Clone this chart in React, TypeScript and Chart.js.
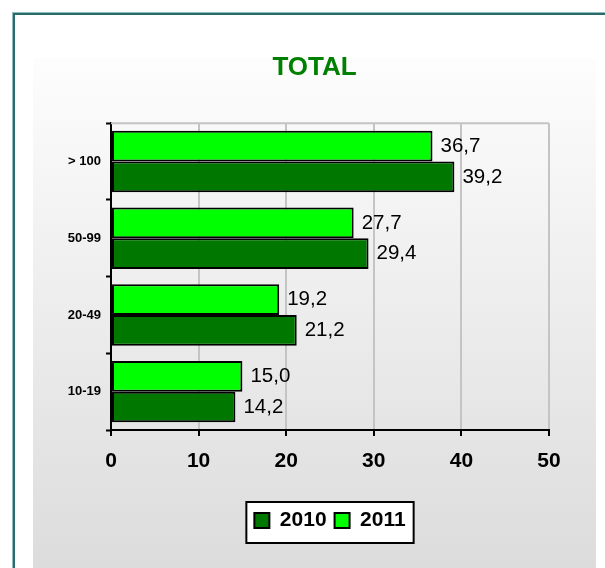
import React, { useEffect, useRef } from 'react';
import { Chart, registerables } from 'chart.js';

Chart.register(...registerables);

// ---- data ----
const titleText = 'TOTAL';
const categories = ['> 100', '50-99', '20-49', '10-19'];
const series2011 = [36.7, 27.7, 19.2, 15.0];
const series2010 = [39.2, 29.4, 21.2, 14.2];
const seriesNames = ['2011', '2010'];
const xTickValues = [0, 10, 20, 30, 40, 50];

const FONT = '"Liberation Sans", Arial, Helvetica, sans-serif';
const PANEL = { left: 33, top: 58, right: 596 };

const backgroundPlugin = {
  id: 'bgPanel',
  beforeDraw(chart: any) {
    const { ctx, width, height } = chart;
    ctx.save();
    ctx.fillStyle = '#ffffff';
    ctx.fillRect(0, 0, width, height);
    // teal frame (top + left visible)
    ctx.fillStyle = '#8fbcbc';
    ctx.fillRect(12, 12, width - 12, 1);
    ctx.fillRect(12, 12, 1, height - 12);
    ctx.fillStyle = '#2a6a6a';
    ctx.fillRect(13, 13, width - 13, 2);
    ctx.fillRect(13, 13, 2, height - 13);
    // gradient panel
    const g = ctx.createLinearGradient(0, PANEL.top, 0, height);
    g.addColorStop(0, '#fdfdfd');
    g.addColorStop(1, '#dcdcdc');
    ctx.fillStyle = g;
    ctx.fillRect(PANEL.left, PANEL.top, PANEL.right - PANEL.left, height - PANEL.top);
    // legend frame
    const lg = chart.legend;
    if (lg && lg.legendHitBoxes && lg.legendHitBoxes.length) {
      const hb = lg.legendHitBoxes;
      const l = Math.min(...hb.map((h: any) => h.left)) - 8;
      const r = Math.max(...hb.map((h: any) => h.left + h.width)) + 8;
      const t = lg.top;
      const b = Math.max(...hb.map((h: any) => h.top + h.height)) + 12;
      ctx.fillStyle = '#ffffff';
      ctx.fillRect(l, t, r - l, b - t);
      ctx.strokeStyle = '#000000';
      ctx.lineWidth = 2;
      ctx.strokeRect(l, t, r - l, b - t);
    }
    ctx.restore();
  },
  afterLayout(chart: any) {
    const t = chart.titleBlock;
    if (t) {
      t.left = PANEL.left;
      t.right = PANEL.right;
    }
  },
  beforeDatasetsDraw(chart: any) {
    const { ctx, chartArea } = chart;
    ctx.save();
    ctx.strokeStyle = '#c4c4c4';
    ctx.lineWidth = 2;
    ctx.beginPath();
    ctx.moveTo(chartArea.left, chartArea.top);
    ctx.lineTo(chartArea.right, chartArea.top);
    ctx.stroke();
    ctx.restore();
  },
};

const valueLabelPlugin = {
  id: 'valueLabels',
  afterDatasetsDraw(chart: any) {
    const { ctx } = chart;
    ctx.save();
    ctx.font = `20.5px ${FONT}`;
    ctx.fillStyle = '#000000';
    ctx.textAlign = 'left';
    ctx.textBaseline = 'middle';
    chart.data.datasets.forEach((ds: any, di: number) => {
      const meta = chart.getDatasetMeta(di);
      meta.data.forEach((bar: any, i: number) => {
        const v = ds.data[i] as number;
        ctx.fillText(v.toFixed(1).replace('.', ','), bar.x + 8, bar.y);
      });
    });
    ctx.restore();
  },
};

export default function App() {
  const ref = useRef<HTMLCanvasElement>(null);

  useEffect(() => {
    if (!ref.current) return;
    const chart = new Chart(ref.current, {
      type: 'bar',
      data: {
        labels: categories,
        datasets: [
          {
            label: seriesNames[0],
            data: series2011,
            backgroundColor: '#00ff00',
            borderColor: '#000000',
            borderWidth: 2,
            borderSkipped: false,
            categoryPercentage: 0.8,
            barPercentage: 1.0,
          },
          {
            label: seriesNames[1],
            data: series2010,
            backgroundColor: '#007800',
            borderColor: '#000000',
            borderWidth: 2,
            borderSkipped: false,
            categoryPercentage: 0.8,
            barPercentage: 1.0,
          },
        ],
      },
      options: {
        indexAxis: 'y',
        responsive: false,
        animation: false,
        devicePixelRatio: 1,
        layout: { padding: { left: 33, right: 56, top: 0, bottom: 27 } },
        plugins: {
          title: {
            display: true,
            text: titleText,
            color: '#008000',
            font: { family: FONT, size: 26, weight: 'bold' },
            padding: { top: 52, bottom: 40 },
          },
          legend: {
            position: 'bottom',
            fullSize: false,
            reverse: true,
            labels: {
              boxWidth: 15,
              boxHeight: 15,
              padding: 8,
              color: '#000000',
              font: { family: FONT, size: 21, weight: 'bold' },
            },
          },
          tooltip: { enabled: false },
        },
        scales: {
          x: {
            min: 0,
            max: 50,
            afterBuildTicks: (s: any) => {
              s.ticks = xTickValues.map((v) => ({ value: v }));
            },
            ticks: {
              color: '#000000',
              font: { family: FONT, size: 21, weight: 'bold' },
              padding: 13,
            },
            grid: {
              color: '#c4c4c4',
              lineWidth: 2,
              tickColor: '#000000',
              tickWidth: 2,
              tickLength: 6,
            },
            border: { color: '#000000', width: 2 },
            afterFit: (s: any) => {
              s.height = 72;
            },
          },
          y: {
            ticks: {
              color: '#000000',
              font: { family: FONT, size: 13, weight: 'bold' },
              padding: 5,
            },
            grid: {
              offset: true,
              drawOnChartArea: false,
              tickColor: '#000000',
              tickWidth: 2,
              tickLength: 5,
            },
            border: { color: '#000000', width: 2 },
            afterFit: (s: any) => {
              s.width = 78;
            },
          },
        },
      } as any,
      plugins: [backgroundPlugin, valueLabelPlugin],
    });
    return () => chart.destroy();
  }, []);

  return (
    <div style={{ position: 'absolute', left: 0, top: 0, width: 605, height: 568 }}>
      <canvas ref={ref} width={605} height={568} style={{ display: 'block', width: 605, height: 568 }} />
    </div>
  );
}
